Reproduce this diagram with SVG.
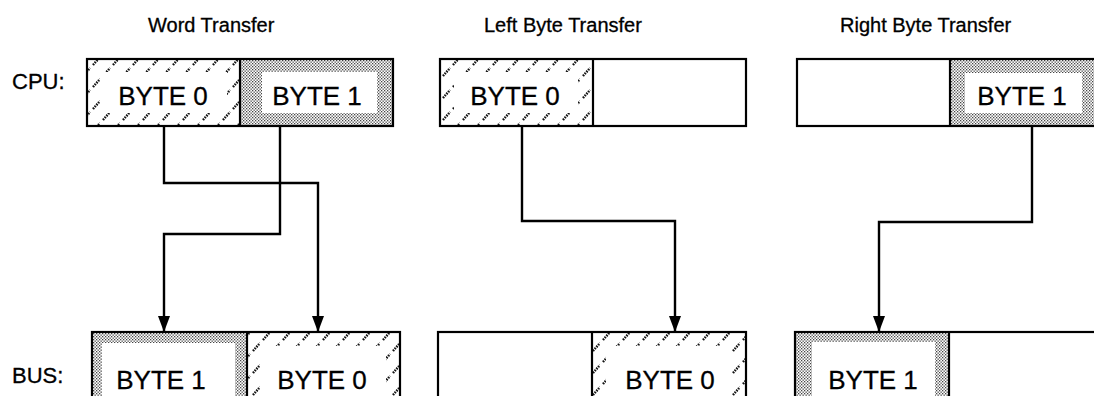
<svg xmlns="http://www.w3.org/2000/svg" width="1094" height="396" viewBox="0 0 1094 396">
<style>
text{font-family:"Liberation Sans",Arial,sans-serif;fill:#000;stroke:#000;stroke-width:0.3}
.title{font-size:20px}
.lbl{font-size:22px}
.byte{font-size:26px;text-anchor:middle}
.frame{fill:none;stroke:#000;stroke-width:2.2}
.hatch{fill:url(#hatch)}
.dots{fill:url(#dots)}
.clear{fill:#fff}
.wire{fill:none;stroke:#000;stroke-width:2.4;stroke-linejoin:miter}
</style>
<defs>
<pattern id="dots" width="3" height="3" patternUnits="userSpaceOnUse">
<rect width="3" height="3" fill="#fff"/>
<rect x="0" y="0" width="1.3" height="1.3" fill="#444"/>
<rect x="1.5" y="1.5" width="1.3" height="1.3" fill="#444"/>
</pattern>
<pattern id="hatch" width="20" height="22" patternUnits="userSpaceOnUse">
<rect width="20" height="22" fill="#fff"/>
<path d="M3 10 L10 2 M13 21 L20 13" stroke="#111" stroke-width="2.4" stroke-dasharray="1.6 1"/>
</pattern>
<marker id="arr" markerWidth="16" markerHeight="12" refX="16" refY="6" orient="auto" markerUnits="userSpaceOnUse" viewBox="0 0 16 12">
<path d="M0 0 L16 6 L0 12 Z" fill="#000"/>
</marker>
</defs>

<g id="titles">
<text class="title" x="148" y="32">Word Transfer</text>
<text class="title" x="484" y="32">Left Byte Transfer</text>
<text class="title" x="840" y="32">Right Byte Transfer</text>
</g>
<g id="row-labels">
<text class="lbl" x="12" y="89">CPU:</text>
<text class="lbl" x="12" y="383">BUS:</text>
</g>

<g id="word-cpu">
<rect class="hatch" x="87" y="59" width="153" height="67"/>
<rect class="clear" x="101" y="72" width="126" height="41"/>
<rect class="dots" x="240" y="59" width="153" height="67"/>
<rect class="clear" x="262" y="72" width="115" height="41"/>
<rect class="frame" x="87" y="59" width="306" height="67"/>
<line class="frame" x1="240" y1="59" x2="240" y2="126"/>
<text class="byte" x="163" y="105">BYTE 0</text>
<text class="byte" x="317" y="105">BYTE 1</text>
</g>

<g id="left-cpu">
<rect class="hatch" x="440" y="59" width="153" height="67"/>
<rect class="clear" x="454" y="72" width="124" height="41"/>
<rect class="frame" x="440" y="59" width="306" height="67"/>
<line class="frame" x1="593" y1="59" x2="593" y2="126"/>
<text class="byte" x="515" y="105">BYTE 0</text>
</g>

<g id="right-cpu">
<rect class="dots" x="950" y="59" width="153" height="67"/>
<rect class="clear" x="965" y="73" width="117" height="40"/>
<rect class="frame" x="797" y="59" width="306" height="67"/>
<line class="frame" x1="950" y1="59" x2="950" y2="126"/>
<text class="byte" x="1022" y="105">BYTE 1</text>
</g>

<g id="word-bus">
<rect class="dots" x="92" y="332" width="155" height="70"/>
<rect class="clear" x="102" y="343" width="133" height="62"/>
<rect class="hatch" x="247" y="332" width="153" height="70"/>
<rect class="clear" x="260" y="346" width="126" height="60"/>
<rect class="frame" x="92" y="332" width="308" height="70"/>
<line class="frame" x1="247" y1="332" x2="247" y2="402"/>
<text class="byte" x="161" y="389">BYTE 1</text>
<text class="byte" x="322" y="389">BYTE 0</text>
</g>

<g id="left-bus">
<rect class="hatch" x="592" y="332" width="154" height="70"/>
<rect class="clear" x="606" y="346" width="126" height="60"/>
<rect class="frame" x="438" y="332" width="308" height="70"/>
<line class="frame" x1="592" y1="332" x2="592" y2="402"/>
<text class="byte" x="670" y="389">BYTE 0</text>
</g>

<g id="right-bus">
<rect class="dots" x="795" y="332" width="154" height="70"/>
<rect class="clear" x="812" y="342" width="123" height="62"/>
<rect class="frame" x="795" y="332" width="308" height="70"/>
<line class="frame" x1="949" y1="332" x2="949" y2="402"/>
<text class="byte" x="873" y="389">BYTE 1</text>
</g>

<g id="connectors">
<path class="wire" d="M164 126 V183 H318 V332" marker-end="url(#arr)"/>
<path class="wire" d="M280 126 V234 H164 V332" marker-end="url(#arr)"/>
<path class="wire" d="M522 126 V221 H675 V332" marker-end="url(#arr)"/>
<path class="wire" d="M1032 126 V222 H879 V332" marker-end="url(#arr)"/>
</g>
</svg>
